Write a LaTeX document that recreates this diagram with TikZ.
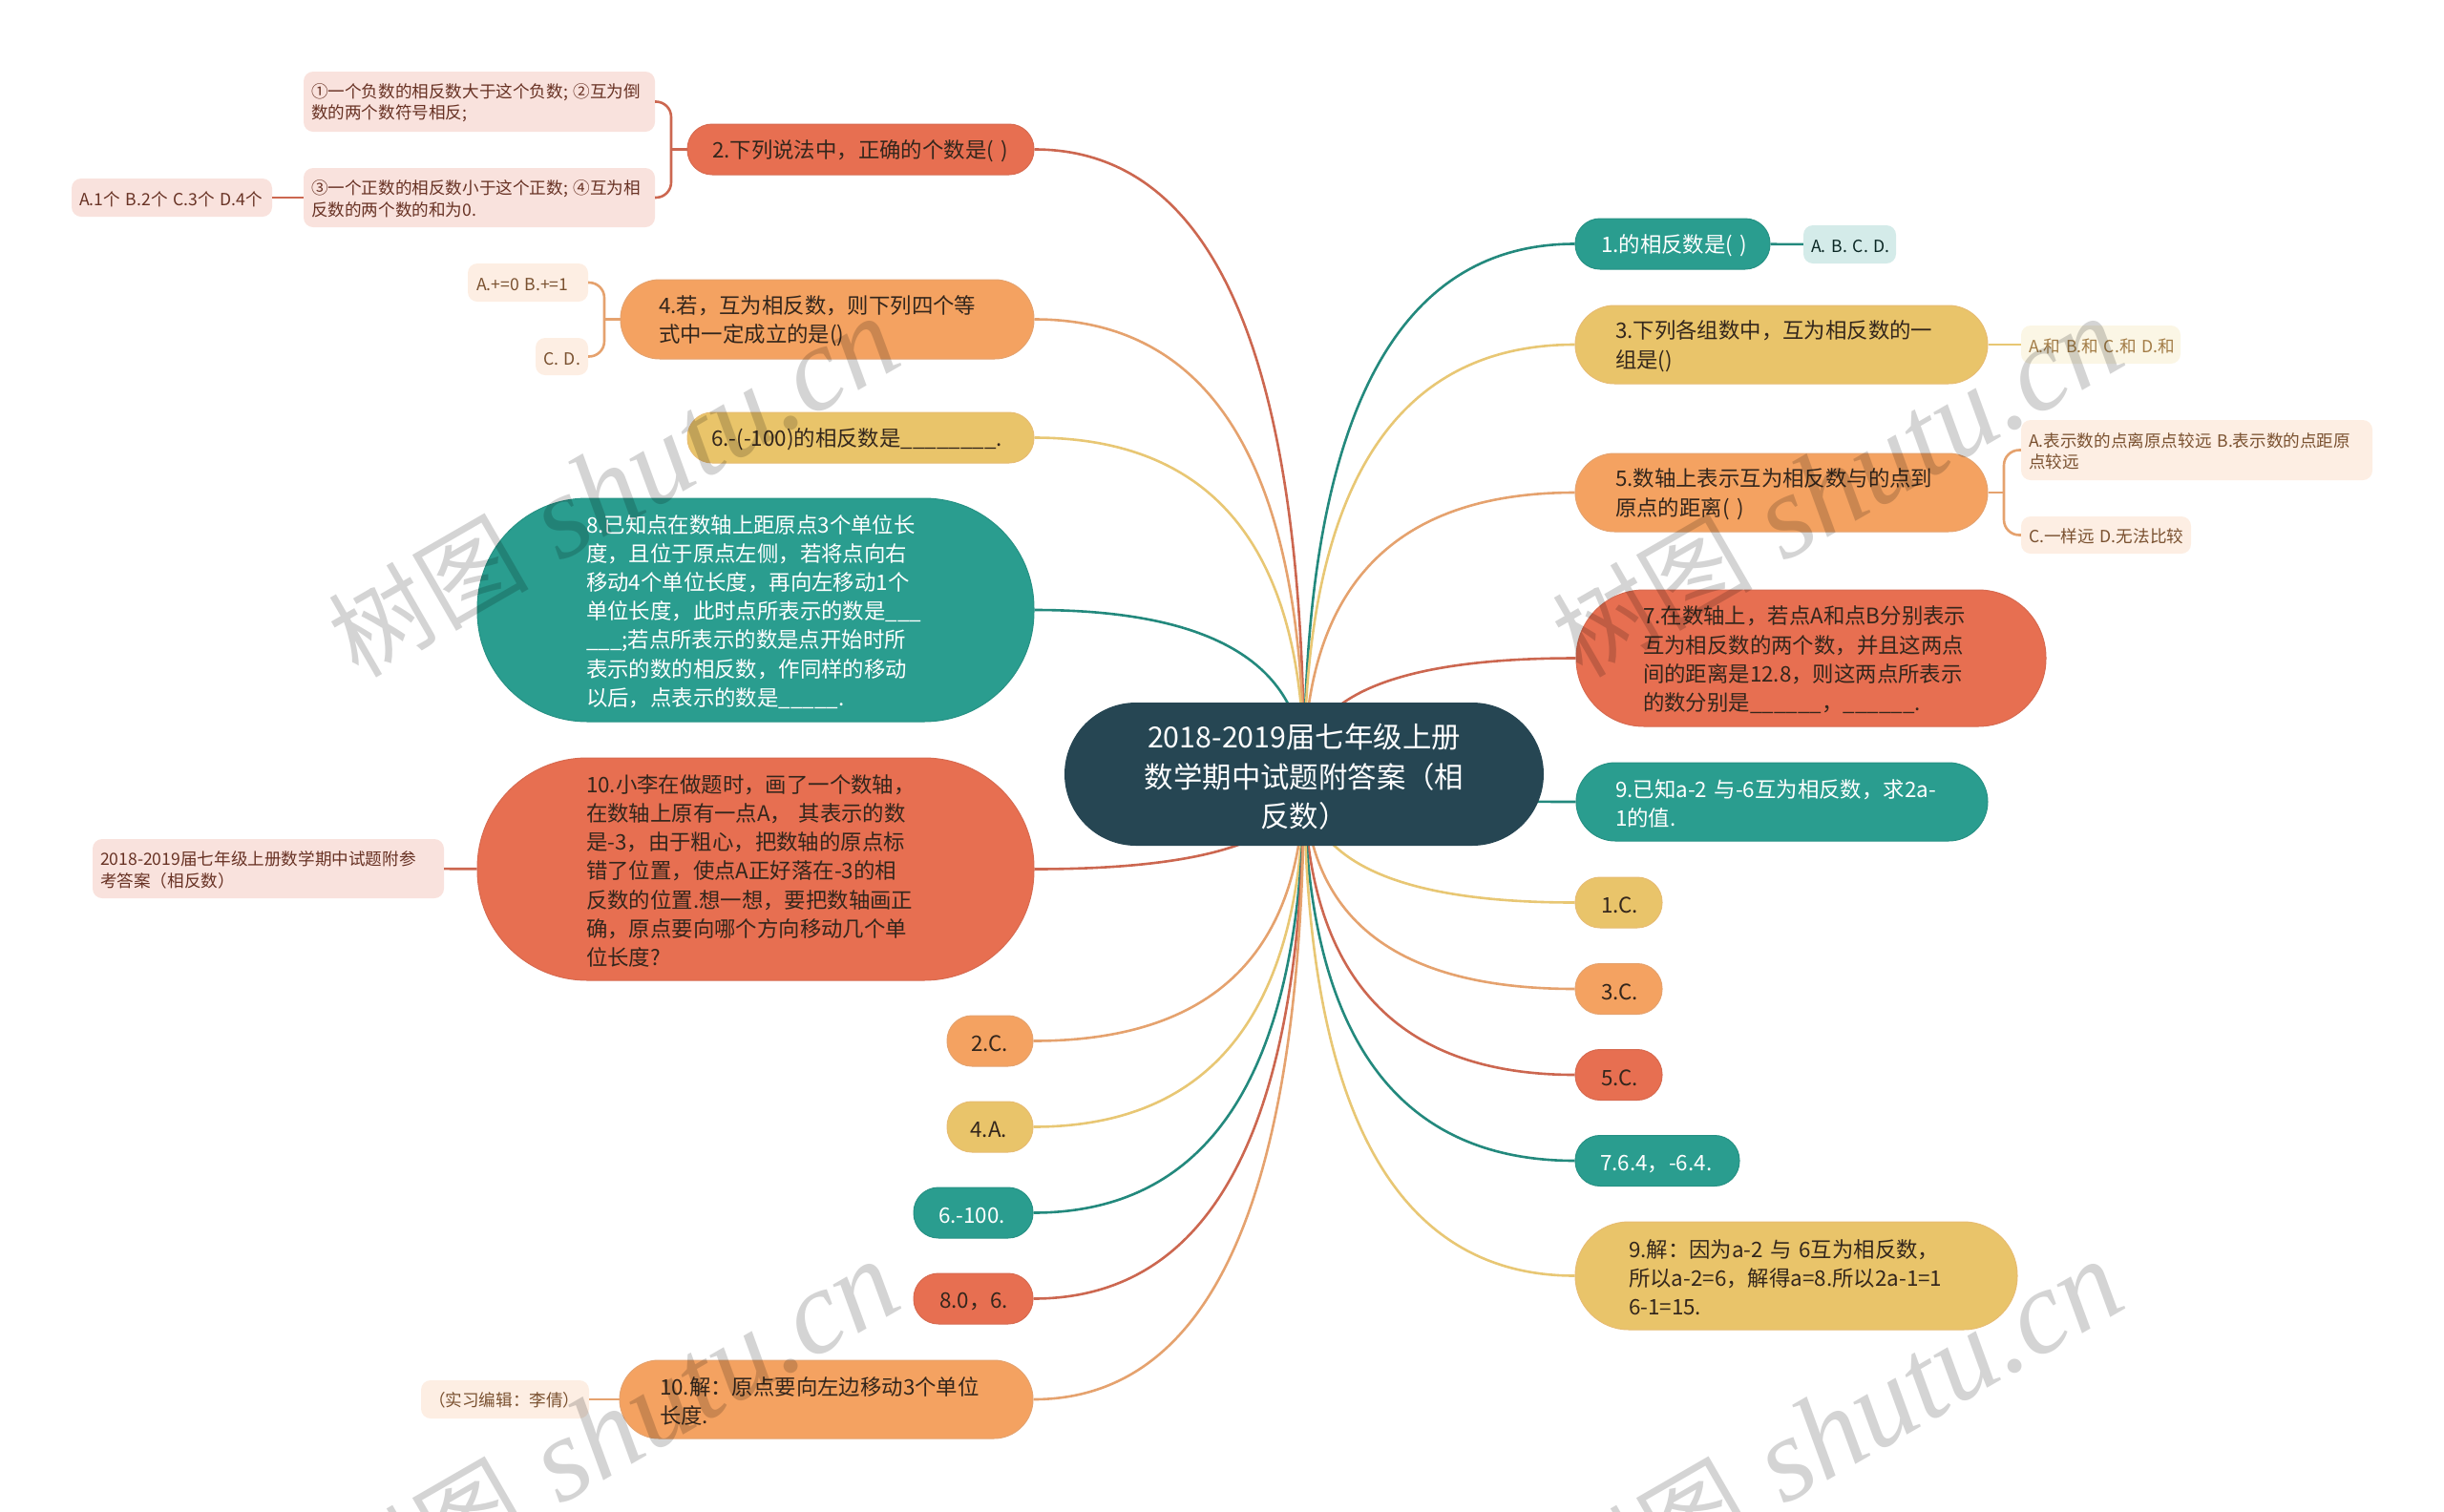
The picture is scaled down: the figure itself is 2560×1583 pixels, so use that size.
\documentclass[tikz,border=0pt]{standalone}
\usepackage{fontspec}
\usetikzlibrary{calc,backgrounds}
\setmainfont{Noto Sans CJK SC}
\newfontfamily\wmlatin{Liberation Serif}

\definecolor{navyfill}{HTML}{264653}
\definecolor{greenfill}{HTML}{2A9D8F}
\definecolor{yellowfill}{HTML}{E9C46A}
\definecolor{orangefill}{HTML}{F4A261}
\definecolor{redfill}{HTML}{E76F51}
\definecolor{greenline}{HTML}{23897D}
\definecolor{yellowline}{HTML}{E8C774}
\definecolor{orangeline}{HTML}{E5A26E}
\definecolor{redline}{HTML}{CC6750}
\definecolor{greenleaf}{HTML}{D4EBE9}
\definecolor{yellowleaf}{HTML}{FBF6E5}
\definecolor{orangeleaf}{HTML}{FDEEE3}
\definecolor{redleaf}{HTML}{F9E2DD}
\definecolor{topicink}{HTML}{33261C}

\tikzset{
    sized/.style n args={4}{minimum width=#1pt, minimum height=#2pt, rounded corners=#3pt, text width=#4pt},
    topic/.style={inner sep=0pt, align=left, font=\fontsize{22.4}{30.2}\selectfont, text=topicink, line width=1pt, execute at begin node={\rule{0pt}{22.5pt}}},
    leaf/.style={inner sep=0pt, align=left, font=\fontsize{17.6}{22.5}\selectfont, execute at begin node={\rule{0pt}{17.5pt}}},
    greentopic/.style={topic, fill=greenfill, draw=greenline!60!greenfill, text=white},
    yellowtopic/.style={topic, fill=yellowfill, draw=yellowline!70!orangeline},
    orangetopic/.style={topic, fill=orangefill, draw=orangeline},
    redtopic/.style={topic, fill=redfill, draw=redline!60!redfill},
    greenlf/.style={leaf, fill=greenleaf, text=black!75!greenfill},
    yellowlf/.style={leaf, fill=yellowleaf, text=black!45!yellowfill!70!orangefill},
    orangelf/.style={leaf, fill=orangeleaf, text=black!50!orangefill},
    redlf/.style={leaf, fill=redleaf, text=black!55!redfill},
    wire/.style={line width=2.6pt},
    mark text/.style={text=black, opacity=0.17, rotate=30}
}

% curve from a node to the middle of the root
\newcommand{\branch}[2]{
    \draw[wire, #1] (#2) .. controls ($(#2)!.667!(C.center |- #2)$) and ($(C.center)!.667!(C.center |- #2)$) .. (C.center);
}
% the grey mark over the picture
\newcommand{\marktext}{{\fontsize{105}{105}\selectfont 树图}\kern33pt{\fontsize{125}{125}\selectfont\wmlatin\itshape shutu.cn}}

\begin{document}
\begin{tikzpicture}[x=1pt, y=-1pt]
    \useasboundingbox (0,0) rectangle (2560,1583);
    \clip (0,0) rectangle (2560,1583);

    \node (C) at (1366,811) [fill=navyfill, text=white, inner sep=0pt, align=center, font=\fontsize{30.4}{41.7}\selectfont, execute at begin node={\rule{0pt}{31pt}}, sized={502}{150}{75}{400}] {2018-2019届七年级上册\\数学期中试题附答案（相\\反数）};

    %-----

    \node (N2) at (901.5,156.5) [redtopic, sized={363}{53}{26}{311}] {\mbox{2.下列说法中，正确的个数是( )}};
    \node (L21) at (502,106.5) [redlf, sized={368}{63}{10}{352}] {①一个负数的相反数大于这个负数; ②互为倒\\数的两个数符号相反;};
    \node (L22) at (502,207) [redlf, sized={368}{62}{10}{352}] {③一个正数的相反数小于这个正数; ④互为相\\反数的两个数的和为0.};
    \node (L23) at (180,207) [redlf, sized={210}{40}{10}{194}] {\mbox{A.1个 B.2个 C.3个 D.4个}};

    \node (N4) at (866.5,334.5) [orangetopic, sized={433}{83}{41}{353}] {4.若，互为相反数，则下列四个等\\式中一定成立的是()};
    \node (L41) at (553,296) [orangelf, sized={126}{40}{10}{108}] {\mbox{A.+=0 B.+=1}};
    \node (L42) at (588.5,373.5) [orangelf, sized={55}{39}{10}{39}] {\mbox{C. D.}};

    \node (N6) at (901.5,458.5) [yellowtopic, sized={363}{53}{26}{313}] {\mbox{6.-(-100)的相反数是\_\_\_\_\_\_\_\_.}};

    \node (N8) at (791.5,639) [greentopic, sized={583}{234}{115}{355}] {8.已知点在数轴上距原点3个单位长\\度，且位于原点左侧，若将点向右\\移动4个单位长度，再向左移动1个\\单位长度，此时点所表示的数是\_\_\_\\\_\_\_;若点所表示的数是点开始时所\\表示的数的相反数，作同样的移动\\以后，点表示的数是\_\_\_\_\_.};

    \node (N10) at (791.5,910.5) [redtopic, sized={583}{233}{115}{355}] {10.小李在做题时，画了一个数轴，\\在数轴上原有一点A， 其表示的数\\是-3，由于粗心，把数轴的原点标\\错了位置，使点A正好落在-3的相\\反数的位置.想一想，要把数轴画正\\确，原点要向哪个方向移动几个单\\位长度?};
    \node (L10) at (281,910) [redlf, sized={368}{62}{10}{352}] {2018-2019届七年级上册数学期中试题附参\\考答案（相反数）};

    %-----

    \node (A2) at (1037,1090.5) [orangetopic, sized={90}{53}{26}{40}] {\mbox{2.C.}};
    \node (A4) at (1037,1180.5) [yellowtopic, sized={90}{53}{26}{41}] {\mbox{4.A.}};
    \node (A6) at (1019.5,1270.5) [greentopic, sized={125}{53}{26}{73}] {\mbox{6.-100.}};
    \node (A8) at (1019.5,1360.5) [redtopic, sized={125}{53}{26}{71}] {\mbox{8.0，6.}};
    \node (A10) at (865.5,1466) [orangetopic, sized={433}{82}{41}{349}] {10.解：原点要向左边移动3个单位\\长度.};
    \node (L11) at (529,1466) [orangelf, sized={176}{40}{10}{160}] {\mbox{（实习编辑：李倩）}};

    %-----

    \node (R1) at (1752,255.5) [greentopic, sized={204}{53}{26}{150}] {\mbox{1.的相反数是( )}};
    \node (LR1) at (1937.5,256) [greenlf, sized={97}{40}{10}{81}] {\mbox{A. B. C. D.}};

    \node (R3) at (1866,361) [yellowtopic, sized={432}{82}{41}{348}] {3.下列各组数中，互为相反数的一\\组是()};
    \node (LR3) at (2200.5,361) [yellowlf, sized={167}{40}{10}{151}] {\mbox{A.和 B.和 C.和 D.和}};

    \node (R5) at (1866,516) [orangetopic, sized={432}{82}{41}{348}] {5.数轴上表示互为相反数与的点到\\原点的距离( )};
    \node (LR51) at (2301,471.5) [orangelf, sized={368}{63}{10}{352}] {A.表示数的点离原点较远 B.表示数的点距原\\点较远};
    \node (LR52) at (2206,560.5) [orangelf, sized={178}{39}{10}{162}] {\mbox{C.一样远 D.无法比较}};

    \node (R7) at (1897,689.5) [redtopic, sized={492}{143}{71}{352}] {7.在数轴上，若点A和点B分别表示\\互为相反数的两个数，并且这两点\\间的距离是12.8，则这两点所表示\\的数分别是\_\_\_\_\_\_，\_\_\_\_\_\_.};
    \node (R9) at (1866.5,840) [greentopic, sized={431}{82}{41}{349}] {9.已知a-2 与-6互为相反数，求2a-\\1的值.};

    %-----

    \node (B1) at (1695.5,945.5) [yellowtopic, sized={91}{53}{26}{37}] {\mbox{1.C.}};
    \node (B3) at (1695.5,1036) [orangetopic, sized={91}{53}{26}{37}] {\mbox{3.C.}};
    \node (B5) at (1695.5,1126) [redtopic, sized={91}{53}{26}{37}] {\mbox{5.C.}};
    \node (B7) at (1736,1216) [greentopic, sized={172}{53}{26}{120}] {\mbox{7.6.4，-6.4.}};
    \node (B9) at (1881.5,1336.5) [yellowtopic, sized={463}{113}{56}{351}] {9.解：因为a-2 与 6互为相反数，\\所以a-2=6，解得a=8.所以2a-1=1\\6-1=15.};

    %-----

    \coordinate (K2) at (703,156.5);
    \coordinate (K4) at (633,334.5);
    \coordinate (K5) at (2099,516);

    \begin{scope}[on background layer]
        \branch{redline}{N2.east}
        \branch{orangeline}{N4.east}
        \branch{yellowline}{N6.east}
        \branch{greenline}{N8.east}
        \branch{redline}{N10.east}
        \branch{orangeline}{A2.east}
        \branch{yellowline}{A4.east}
        \branch{greenline}{A6.east}
        \branch{redline}{A8.east}
        \branch{orangeline}{A10.east}
        \branch{greenline}{R1.west}
        \branch{yellowline}{R3.west}
        \branch{orangeline}{R5.west}
        \branch{redline}{R7.west}
        \branch{greenline}{R9.west}
        \branch{yellowline}{B1.west}
        \branch{orangeline}{B3.west}
        \branch{redline}{B5.west}
        \branch{greenline}{B7.west}
        \branch{yellowline}{B9.west}
    \end{scope}

    \draw[wire, redline] (N2) -- (K2);
    \draw[wire, redline, rounded corners=16pt] (L21.east) -| (K2) |- (L22.east);
    \draw (L23) edge[wire, redline] (L22);

    \draw[wire, orangeline] (N4) -- (K4);
    \draw[wire, orangeline, rounded corners=16pt] (L41.east) -| (K4) |- (L42.east);

    \draw (L10) edge[wire, redline] (N10);
    \draw (L11) edge[wire, orangeline] (A10);
    \draw (R1) edge[wire, greenline] (LR1);
    \draw (R3) edge[wire, yellowline] (LR3);

    \draw[wire, orangeline] (R5) -- (K5);
    \draw[wire, orangeline, rounded corners=16pt] (LR51.west) -| (K5) |- (LR52.west);

    %-----

    \node (W1) at (643,511) [mark text] {\marktext};
    \node (W2) at (1925,511) [mark text] {\marktext};
    \node (W3) at (643,1499) [mark text] {\marktext};
    \node (W4) at (1925,1499) [mark text] {\marktext};
\end{tikzpicture}
\end{document}
